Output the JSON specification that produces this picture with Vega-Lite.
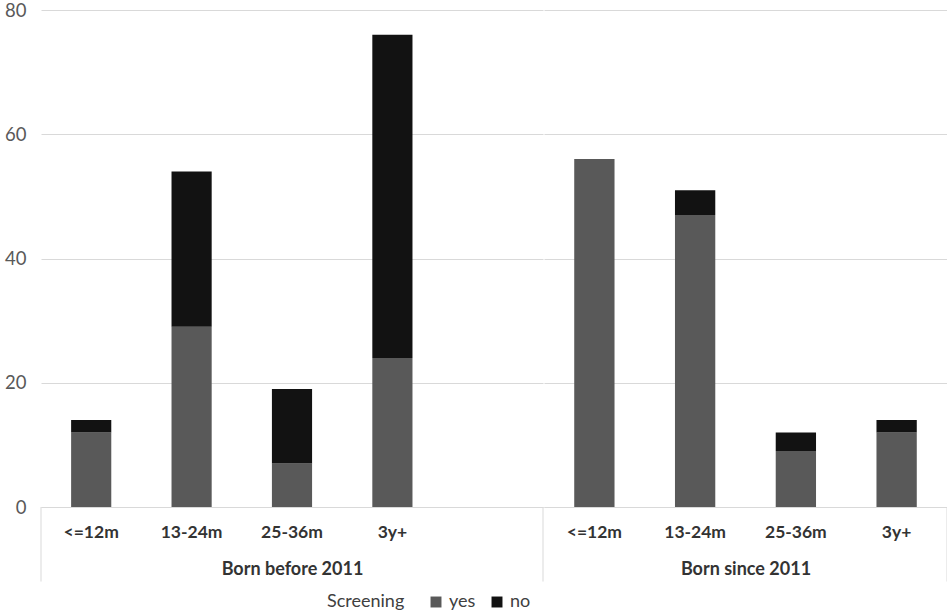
{
  "$schema": "https://vega.github.io/schema/vega-lite/v6.json",
  "background": "white",
  "padding": {"left": 4, "right": 1, "top": 1, "bottom": 0},
  "config": {
    "view": {"stroke": null},
    "font": "Lato",
    "concat": {"spacing": 0}
  },
  "data": {
    "values": [
      {"born": "Born before 2011", "age": "<=12m", "screening": "yes", "count": 12},
      {"born": "Born before 2011", "age": "<=12m", "screening": "no", "count": 2},
      {"born": "Born before 2011", "age": "13-24m", "screening": "yes", "count": 29},
      {"born": "Born before 2011", "age": "13-24m", "screening": "no", "count": 25},
      {"born": "Born before 2011", "age": "25-36m", "screening": "yes", "count": 7},
      {"born": "Born before 2011", "age": "25-36m", "screening": "no", "count": 12},
      {"born": "Born before 2011", "age": "3y+", "screening": "yes", "count": 24},
      {"born": "Born before 2011", "age": "3y+", "screening": "no", "count": 52},
      {"born": "Born since 2011", "age": "<=12m", "screening": "yes", "count": 56},
      {"born": "Born since 2011", "age": "<=12m", "screening": "no", "count": 0},
      {"born": "Born since 2011", "age": "13-24m", "screening": "yes", "count": 47},
      {"born": "Born since 2011", "age": "13-24m", "screening": "no", "count": 4},
      {"born": "Born since 2011", "age": "25-36m", "screening": "yes", "count": 9},
      {"born": "Born since 2011", "age": "25-36m", "screening": "no", "count": 3},
      {"born": "Born since 2011", "age": "3y+", "screening": "yes", "count": 12},
      {"born": "Born since 2011", "age": "3y+", "screening": "no", "count": 2}
    ]
  },
  "resolve": {"scale": {"color": "shared"}, "legend": {"color": "shared"}},
  "hconcat": [
    {
      "width": 502,
      "height": 497,
      "transform": [{"filter": "datum.born == 'Born before 2011'"}],
      "layer": [
        {
          "mark": {"type": "bar"},
          "encoding": {
            "x": {
              "field": "age", "type": "nominal",
              "scale": {"domain": ["<=12m", "13-24m", "25-36m", "3y+", " "], "paddingInner": 0.6, "paddingOuter": 0.3},
              "title": "Born before 2011",
              "axis": {"labelAngle": 0, "domain": true, "domainColor": "#d9d9d9", "ticks": false, "tickSize": 0, "labelPadding": 16, "labelFontSize": 17.5, "labelFontWeight": "bold", "labelColor": "#333333", "titleFontSize": 18, "titleFontWeight": "bold", "titleColor": "#333333", "titlePadding": 20}
            },
            "y": {
              "field": "count", "type": "quantitative", "stack": "zero",
              "scale": {"domain": [0, 80], "nice": false},
              "title": null,
              "axis": {"values": [0, 20, 40, 60, 80], "grid": true, "gridColor": "#d9d9d9", "domain": false, "ticks": false, "tickSize": 0, "labelFontSize": 18.5, "labelColor": "#595959", "labelPadding": 15}
            },
            "color": {
              "field": "screening", "type": "nominal",
              "scale": {"domain": ["yes", "no"], "range": ["#595959", "#121212"]},
              "legend": {"orient": "none", "legendX": 286, "legendY": 583, "direction": "horizontal", "title": "Screening", "titleOrient": "left", "symbolType": "square", "symbolSize": 120, "symbolStrokeWidth": 0, "labelFontSize": 18, "titleFontSize": 18, "titleFontWeight": "normal", "titleColor": "#404040", "labelColor": "#404040", "columnPadding": 12, "titlePadding": 22, "labelOffset": 4}
            },
            "order": {"field": "screening", "sort": "descending"}
          }
        },
        {
          "data": {"values": [{}]},
          "mark": {"type": "rule", "color": "#d9d9d9", "strokeWidth": 1},
          "encoding": {
            "x": {"datum": "<=12m", "type": "nominal", "bandPosition": -0.75},
            "y": {"datum": 0, "type": "quantitative"},
            "y2": {"datum": -12}
          }
        },
        {
          "data": {"values": [{}]},
          "mark": {"type": "rule", "color": "#d9d9d9", "strokeWidth": 1},
          "encoding": {
            "x": {"datum": " ", "type": "nominal", "bandPosition": 1.75},
            "y": {"datum": 0, "type": "quantitative"},
            "y2": {"datum": -12}
          }
        }
      ]
    },
    {
      "width": 403,
      "height": 497,
      "transform": [{"filter": "datum.born == 'Born since 2011'"}],
      "layer": [
        {
          "mark": {"type": "bar"},
          "encoding": {
            "x": {
              "field": "age", "type": "nominal",
              "scale": {"domain": ["<=12m", "13-24m", "25-36m", "3y+"], "paddingInner": 0.6, "paddingOuter": 0.3},
              "title": "Born since 2011",
              "axis": {"labelAngle": 0, "domain": true, "domainColor": "#d9d9d9", "ticks": false, "tickSize": 0, "labelPadding": 16, "labelFontSize": 17.5, "labelFontWeight": "bold", "labelColor": "#333333", "titleFontSize": 18, "titleFontWeight": "bold", "titleColor": "#333333", "titlePadding": 20}
            },
            "y": {
              "field": "count", "type": "quantitative", "stack": "zero",
              "scale": {"domain": [0, 80], "nice": false},
              "title": null,
              "axis": {"values": [0, 20, 40, 60, 80], "grid": true, "gridColor": "#d9d9d9", "domain": false, "ticks": false, "tickSize": 0, "labels": false}
            },
            "color": {
              "field": "screening", "type": "nominal",
              "scale": {"domain": ["yes", "no"], "range": ["#595959", "#121212"]}
            },
            "order": {"field": "screening", "sort": "descending"}
          }
        },
        {
          "data": {"values": [{}]},
          "mark": {"type": "rule", "color": "#d9d9d9", "strokeWidth": 1},
          "encoding": {
            "x": {"datum": "3y+", "type": "nominal", "bandPosition": 1.75},
            "y": {"datum": 0, "type": "quantitative"},
            "y2": {"datum": -12}
          }
        }
      ]
    }
  ]
}
